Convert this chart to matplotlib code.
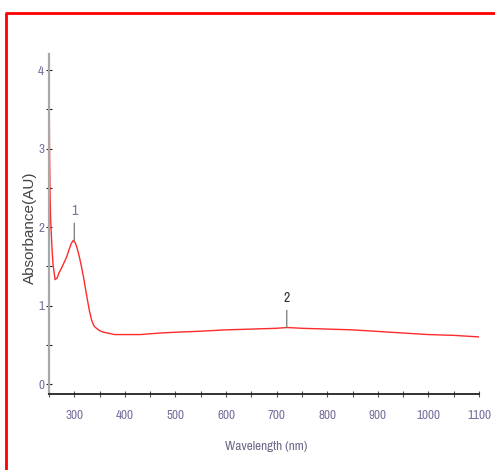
import matplotlib
matplotlib.use("Agg")
import matplotlib.pyplot as plt
from matplotlib.lines import Line2D

wavelength = [250, 250.5, 251, 252, 253, 254, 256, 258, 262, 266, 270, 275, 280, 285, 290, 294,
              298, 302, 306, 310, 314, 318, 322, 326, 330, 334, 338, 342, 346, 350, 358, 365,
              380, 400, 430, 450, 470, 500, 540, 570, 600, 650, 700, 720, 750, 800, 850,
              900, 950, 1000, 1050, 1100]
absorbance = [4.00, 3.55, 3.00, 2.45, 2.15, 1.98, 1.72, 1.52, 1.33, 1.35, 1.42, 1.48, 1.55, 1.62, 1.72, 1.79,
              1.83, 1.80, 1.72, 1.62, 1.50, 1.37, 1.22, 1.07, 0.93, 0.82, 0.75, 0.72, 0.70, 0.68, 0.66, 0.65,
              0.63, 0.63, 0.63, 0.64, 0.65, 0.66, 0.67, 0.68, 0.69, 0.70, 0.71, 0.72, 0.71, 0.70, 0.69,
              0.67, 0.65, 0.63, 0.62, 0.60]

peak_labels = ["1", "2"]
peak_x = [300, 720]
peak_y = [1.83, 0.72]

x_major = [300, 400, 500, 600, 700, 800, 900, 1000, 1100]
x_minor = list(range(250, 1101, 50))
y_major = [0, 1, 2, 3, 4]
y_minor = [0.5, 1.5, 2.5, 3.5]

narrow = ["Archivo Narrow", "Liberation Sans Narrow", "Liberation Sans", "DejaVu Sans"]
label_col = "#7b6f9c"

fig = plt.figure(figsize=(4.95, 4.70), dpi=100)
ax = fig.add_axes([49/495, 1-394/470, 430/495, 340/470])

ax.plot(wavelength, absorbance, color="#ff2a2a", lw=1.0)

ax.set_xlim(250, 1100)
ax.set_ylim(-0.127, 4.204)

ax.spines["top"].set_visible(False)
ax.spines["right"].set_visible(False)
ax.spines["left"].set_color("#a8a8a8")
ax.spines["left"].set_linewidth(1.6)
ax.spines["bottom"].set_color("#222222")
ax.spines["bottom"].set_linewidth(1.3)

ax.set_xticks(x_major)
ax.set_xticks(x_minor, minor=True)
ax.set_yticks(y_major)
ax.set_yticks(y_minor, minor=True)
ax.set_xticklabels([str(v) for v in x_major], family=narrow, fontsize=9.5, color=label_col)
ax.set_yticklabels([str(v) for v in y_major], family=narrow, fontsize=9.5, color=label_col)
ax.tick_params(axis="x", which="both", direction="inout", length=5, width=0.8,
               color="#555555", pad=9)
ax.tick_params(axis="y", which="both", direction="inout", length=5, width=0.8,
               color="#222222", pad=1)

ax.set_xlabel("Wavelength (nm)", family=narrow, fontsize=9.5, color="#6f6a8a")
ax.xaxis.set_label_coords((266-49)/430, -(441-394)/340)
ax.set_ylabel("Absorbance(AU)", family=["Liberation Sans", "DejaVu Sans"], fontsize=11, color="#444444")
ax.yaxis.set_label_coords(-0.027, 0.49)

label_cols = [label_col, "#333333"]
for lab, px, py, c in zip(peak_labels, peak_x, peak_y, label_cols):
    ax.annotate(lab, xy=(px, py), xytext=(px, py + 0.29), ha="center", va="bottom",
                family=narrow, fontsize=10, color=c,
                arrowprops=dict(arrowstyle="-", color="#777777", lw=0.9,
                                shrinkA=2, shrinkB=0))

border = Line2D([6/495, 6/495, 1.2], [-0.2, 1-13/470, 1-13/470], transform=fig.transFigure,
                color="#ff0000", lw=2.0, clip_on=False)
fig.add_artist(border)

fig.savefig("out.png", dpi=100)
